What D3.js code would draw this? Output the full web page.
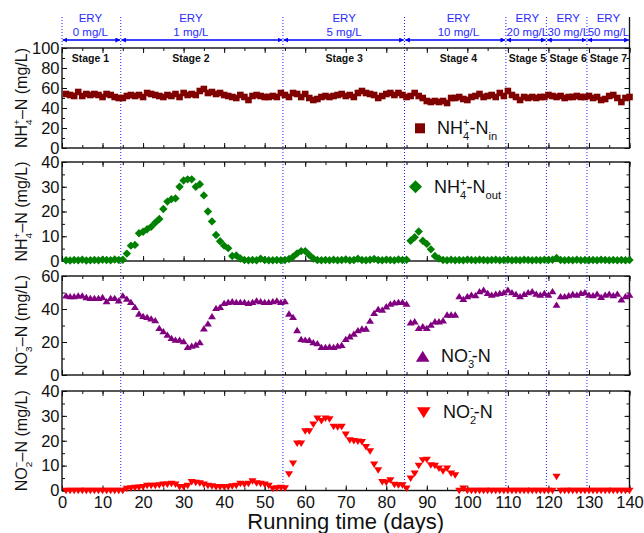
<!DOCTYPE html>
<html>
<head>
<meta charset="utf-8">
<script src="https://cdn.jsdelivr.net/npm/d3@7"></script>
<style>
  body { margin: 0; background: #fff; }
  svg text { font-family: "Liberation Sans", Arial, sans-serif; }
</style>
</head>
<body>
<svg id="chart" width="644" height="533"></svg>
<script>
// sampling days (one point per day)
const days = d3.range(1, 141);

// NH4+-N influent (mg/L)
const nh4In = [
  54, 53, 52, 56, 52, 54, 53, 54, 53, 51,
  54, 53, 51, 50, 50, 52, 53, 52, 53, 51,
  55, 54, 53, 52, 51, 53, 52, 54, 51, 55,
  53, 54, 53, 57, 59, 55, 56, 54, 55, 53,
  52, 51, 50, 53, 51, 48, 52, 53, 52, 51,
  51, 52, 51, 55, 53, 51, 55, 54, 51, 54,
  50, 48, 49, 51, 52, 51, 52, 53, 54, 52,
  53, 51, 55, 57, 55, 54, 53, 50, 52, 54,
  55, 53, 55, 53, 51, 52, 55, 52, 50, 47,
  46, 47, 46, 47, 45, 50, 50, 51, 49, 48,
  51, 52, 54, 51, 52, 53, 51, 55, 52, 57,
  53, 51, 48, 51, 50, 51, 50, 51, 51, 53,
  52, 51, 52, 50, 51, 51, 52, 51, 51, 52,
  50, 51, 48, 49, 52, 53, 50, 46, 50, 51
];

// NH4+-N effluent (mg/L)
const nh4Out = [
  0.3, 0.2, 0.4, 0.3, 0.5, 0.2, 0.3, 0.4, 0.3, 0.5,
  0.4, 0.3, 0.6, 0.4, 0.5, 3, 6.2, 6.5, 11.2, 11.8,
  12.8, 13.8, 15.5, 17, 21, 24, 25, 25.3, 30, 32.5,
  33, 33, 30, 31, 26.5, 20, 16, 10.5, 8, 6.2,
  5.2, 2, 2.2, 1, 0.4, 0.3, 0.4, 0.3, 0.9, 0.4,
  0.3, 0.3, 0.4, 0.3, 0.4, 0.8, 1.7, 3.1, 4, 4,
  2.4, 1, 0.4, 0.3, 0.4, 0.3, 0.5, 0.3, 0.4, 0.6,
  0.3, 0.4, 0.9, 0.4, 0.3, 0.5, 0.8, 0.4, 0.3, 0.5,
  0.4, 0.3, 0.6, 0.4, 0.5, 8.2, 9.6, 11.9, 8.2, 6.9,
  4.7, 2, 1, 0.4, 0.3, 0.5, 0.3, 0.4, 0.3, 0.5,
  0.4, 0.3, 0.5, 0.4, 0.3, 0.4, 0.5, 0.3, 0.4, 0.5,
  0.3, 0.4, 0.3, 0.5, 0.4, 0.3, 0.4, 0.3, 0.5, 0.4,
  0.5, 1.2, 0.4, 0.3, 0.4, 0.3, 0.5, 0.3, 0.4, 0.3,
  0.4, 0.3, 0.5, 0.4, 0.3, 0.4, 0.3, 0.4, 0.3, 0.4
];

// NO3--N (mg/L)
const no3 = [
  48, 47.5, 47.5, 48, 48, 47, 46.5, 46.5, 46.5, 47,
  44.5, 46.5, 46.5, 45, 48, 46, 44, 41, 37, 35.5,
  35, 34, 33, 28.3, 26.3, 24.2, 22.2, 21.2, 21.2, 20.2,
  16.8, 17.5, 18.2, 19.6, 28, 31, 35.4, 40.4, 41, 43.4,
  44, 44.5, 44, 44, 44, 43.5, 44, 45, 44.5, 44,
  44, 44.5, 45, 44, 44.5, 37, 35, 27, 21.6, 21.2,
  21, 19.6, 19, 16.8, 16.8, 17, 16.8, 17.5, 18, 21.6,
  23.2, 24.8, 26.9, 27.9, 27.9, 32.7, 37.4, 39.8, 39.4, 41.4,
  43, 43.8, 44, 44, 43, 31.7, 32.3, 28.3, 29.3, 28.3,
  30.3, 32.3, 32.3, 32.9, 36.4, 36.4, 36.4, 47.5, 45.9, 47.5,
  48.5, 48.1, 50.5, 51.5, 49.5, 48.5, 49.1, 49.5, 49.9, 51.5,
  49.9, 48.9, 47.5, 48.9, 49.9, 50.5, 49.1, 48.5, 49.5, 48.5,
  50.5, 42.4, 47.5, 47.5, 48.1, 48.9, 48.5, 49.5, 49.9, 48.5,
  48.1, 49.1, 47.1, 48.5, 49.1, 48.1, 49.1, 45.5, 47.5, 48.5
];

// NO2--N (mg/L)
const no2 = [
  0, 0, 0, 0, 0, 0, 0, 0, 0, 0,
  0, 0, 0, 0, 0, 0.8, 1, 1.2, 1.3, 1.5,
  2, 2, 2, 2.2, 2.5, 2.5, 2.8, 2.5, 1.5, 1.5,
  2, 3.5, 3.2, 3, 2.5, 2, 1.8, 1.5, 1.5, 1.5,
  1.5, 1.8, 2, 2.8, 2.5, 2.8, 3.8, 3, 2.8, 2.5,
  2, 0.8, 1, 1.2, 1, 6.6, 10.9, 19, 19, 23.9,
  23.9, 26.6, 29, 28, 29, 28.7, 25.7, 25.5, 25.7, 22.6,
  20.3, 20, 19.8, 19.6, 17.6, 15.9, 10.5, 8.2, 3.5, 3.3,
  4.2, 2.4, 2.2, 2.2, 0.9, 4.9, 6.9, 10, 12.3, 12.5,
  10.2, 10, 8.9, 7.8, 8.9, 6.9, 6.2, 0, 0.9, 0,
  0, 0, 0, 0, 0, 0, 0, 0, 0, 0,
  0, 0, 0, 0, 0, 0, 0, 0, 0, 0,
  0, 5.6, 0, 0, 0, 0, 0, 0, 0, 0,
  0, 0, 0, 0, 0, 0, 0, 0, 0, 0
];

// stages
const stageBounds = [0, 14.5, 54.5, 84.5, 109.5, 119.5, 129.5, 140];
const stageNames = ["Stage 1", "Stage 2", "Stage 3", "Stage 4", "Stage 5", "Stage 6", "Stage 7"];
const eryDose = ["0 mg/L", "1 mg/L", "5 mg/L", "10 mg/L", "20 mg/L", "30 mg/L", "50 mg/L"];
const stageLabelDay = [7, 31.8, 69.6, 97.8, 114.8, 124.9, 134.8];
const xTicks = d3.range(0, 141, 10);

const svg = d3.select("#chart");
const x = d3.scaleLinear().domain([0, 140]).range([62, 629.5]);
const BLUE = "#2a2aff";

// text with sub/superscripts. mode: 0 normal, 1 sub, 2 sup, 3 sup stacked over previous
function rich(g, parts, size) {
  const t = g.append("text").attr("font-size", size).attr("fill", "#111");
  let shift = 0, lastW = 0;
  parts.forEach(([s, m]) => {
    m = m || 0;
    const target = m === 1 ? size * 0.32 : (m >= 2 ? -size * 0.42 : 0);
    const ts = t.append("tspan").text(s)
      .attr("font-size", m ? size * 0.62 : size)
      .attr("dy", target - shift);
    if (m === 3) ts.attr("dx", -lastW);
    shift = target;
    lastW = ts.node().getComputedTextLength();
  });
  return t;
}

function marker(shape, r) {
  switch (shape) {
    case "square": return `M${-r},${-r}H${r}V${r}H${-r}Z`;
    case "diamond": return `M0,${-r}L${r},0L0,${r}L${-r},0Z`;
    case "up": return `M0,${-r}L${r * 1.1},${r * 0.75}L${-r * 1.1},${r * 0.75}Z`;
    case "down": return `M0,${r}L${r * 1.1},${-r * 0.75}L${-r * 1.1},${-r * 0.75}Z`;
  }
}

const panels = [
  { top: 48, bottom: 148, max: 100, step: 20, values: nh4In, color: "#800000", shape: "square", r: 3.3,
    ytitle: [["NH"], ["4", 1], ["+", 3], ["\u2013N (mg/L)"]],
    legend: [["NH"], ["4", 1], ["+", 3], ["-N"], ["in", 1]], lr: 5, lm: [420, 128.3], lt: [437, 134] },
  { top: 162, bottom: 261, max: 40, step: 10, values: nh4Out, color: "#008000", shape: "diamond", r: 4.2,
    ytitle: [["NH"], ["4", 1], ["+", 3], ["\u2013N (mg/L)"]],
    legend: [["NH"], ["4", 1], ["+", 3], ["-N"], ["out", 1]], lr: 6.5, lm: [415.5, 186.7], lt: [434, 193.3] },
  { top: 276, bottom: 375, max: 60, step: 20, values: no3, color: "#800080", shape: "up", r: 3.6,
    ytitle: [["NO"], ["3", 1], ["\u2212", 3], ["\u2013N (mg/L)"]],
    legend: [["NO"], ["3", 1], ["-", 3], ["-N"]], lr: 6.2, lm: [422.7, 357], lt: [441, 362] },
  { top: 391, bottom: 490.5, max: 40, step: 10, values: no2, color: "#ff0000", shape: "down", r: 3.7,
    ytitle: [["NO"], ["2", 1], ["\u2212", 3], ["\u2013N (mg/L)"]],
    legend: [["NO"], ["2", 1], ["-", 3], ["-N"]], lr: 6.2, lm: [423.7, 412], lt: [443, 418.3] }
];

// dotted stage boundaries
const vlines = svg.append("g");
stageBounds.slice(1, -1).forEach(b => {
  vlines.append("line").attr("x1", x(b)).attr("x2", x(b)).attr("y1", 17).attr("y2", 490.5)
    .attr("stroke", "#1e1eff").attr("stroke-width", 1).attr("stroke-dasharray", "1,2");
});
vlines.append("line").attr("x1", x(0)).attr("x2", x(0)).attr("y1", 17).attr("y2", 48)
  .attr("stroke", "#1e1eff").attr("stroke-dasharray", "1,2");
vlines.append("line").attr("x1", x(140)).attr("x2", x(140)).attr("y1", 17).attr("y2", 48)
  .attr("stroke", "#111").attr("stroke-width", 1.3);

// header arrows
svg.append("defs").append("marker")
  .attr("id", "arr").attr("viewBox", "0 -3 6 6").attr("refX", 5.5).attr("refY", 0)
  .attr("markerWidth", 5).attr("markerHeight", 5).attr("markerUnits", "userSpaceOnUse")
  .attr("orient", "auto-start-reverse")
  .append("path").attr("d", "M0,-3L6,0L0,3Z").attr("fill", "#0000ff");

const head = svg.append("g");
d3.range(7).forEach(i => {
  head.append("line")
    .attr("x1", x(stageBounds[i]) + 0.8).attr("x2", x(stageBounds[i + 1]) - 0.8)
    .attr("y1", 40).attr("y2", 40)
    .attr("stroke", "#0000ff").attr("stroke-width", 1.6)
    .attr("marker-start", "url(#arr)").attr("marker-end", "url(#arr)");
  const cx = x(stageLabelDay[i]);
  head.append("text").attr("x", cx).attr("y", 22).attr("text-anchor", "middle")
    .attr("font-size", 11.5).attr("fill", BLUE).text("ERY");
  head.append("text").attr("x", cx).attr("y", 35.5).attr("text-anchor", "middle")
    .attr("font-size", 11.5).attr("fill", BLUE).text(eryDose[i]);
  head.append("text").attr("x", cx).attr("y", 61.5).attr("text-anchor", "middle")
    .attr("font-size", 10.5).attr("font-weight", "bold").attr("fill", "#111").text(stageNames[i]);
});

function styleAxis(g) {
  g.select(".domain").remove();
  g.selectAll("line").attr("stroke", "#111");
  g.attr("font-family", null).attr("font-size", null);
  g.selectAll("text").attr("font-size", 16.5).attr("fill", "#111");
}

panels.forEach((p, i) => {
  const y = d3.scaleLinear().domain([0, p.max]).range([p.bottom, p.top]);
  const g = svg.append("g");
  const major = d3.range(0, p.max + 0.01, p.step);
  const minor = d3.range(0, p.max + 0.01, p.step / 2);
  const xMinor = d3.range(0, 141, 5);

  // left / right
  g.append("g").attr("transform", `translate(${x(0)},0)`)
    .call(d3.axisLeft(y).tickValues(minor).tickSize(-3).tickFormat("")).call(styleAxis);
  g.append("g").attr("transform", `translate(${x(0)},0)`)
    .call(d3.axisLeft(y).tickValues(major).tickSize(-5).tickPadding(2.5).tickFormat(d3.format("d"))).call(styleAxis);
  g.append("g").attr("transform", `translate(${x(140)},0)`)
    .call(d3.axisRight(y).tickValues(minor).tickSize(-3).tickFormat("")).call(styleAxis);
  g.append("g").attr("transform", `translate(${x(140)},0)`)
    .call(d3.axisRight(y).tickValues(major).tickSize(-5).tickFormat("")).call(styleAxis);

  // top / bottom
  g.append("g").attr("transform", `translate(0,${p.top})`)
    .call(d3.axisTop(x).tickValues(xMinor).tickSize(-3).tickFormat("")).call(styleAxis);
  g.append("g").attr("transform", `translate(0,${p.top})`)
    .call(d3.axisTop(x).tickValues(xTicks).tickSize(-5).tickFormat("")).call(styleAxis);
  g.append("g").attr("transform", `translate(0,${p.bottom})`)
    .call(d3.axisBottom(x).tickValues(xMinor).tickSize(-3).tickFormat("")).call(styleAxis);
  const bx = g.append("g").attr("transform", `translate(0,${p.bottom})`)
    .call(d3.axisBottom(x).tickValues(xTicks).tickSize(-5).tickPadding(6)
      .tickFormat(i === 3 ? d3.format("d") : "")).call(styleAxis);

  g.append("rect").attr("x", x(0)).attr("y", p.top)
    .attr("width", x(140) - x(0)).attr("height", p.bottom - p.top)
    .attr("fill", "none").attr("stroke", "#111").attr("stroke-width", 1.4);

  // points
  g.append("g").selectAll("path").data(days.map((d, k) => [d, p.values[k]]))
    .join("path")
    .attr("transform", d => `translate(${x(d[0])},${y(d[1])})`)
    .attr("d", marker(p.shape, p.r))
    .attr("fill", p.color);

  // y title
  const yt = svg.append("g")
    .attr("transform", `translate(26.5,${(p.top + p.bottom) / 2}) rotate(-90)`);
  rich(yt, p.ytitle, 16).attr("text-anchor", "middle");

  // legend
  svg.append("path").attr("transform", `translate(${p.lm[0]},${p.lm[1]})`)
    .attr("d", marker(p.shape, p.lr)).attr("fill", p.color);
  const lg = svg.append("g").attr("transform", `translate(${p.lt[0]},${p.lt[1]})`);
  rich(lg, p.legend, 18);
});

svg.append("text").attr("x", (x(0) + x(140)) / 2).attr("y", 529)
  .attr("text-anchor", "middle").attr("font-size", 22).attr("fill", "#111")
  .text("Running time (days)");
</script>
</body>
</html>
